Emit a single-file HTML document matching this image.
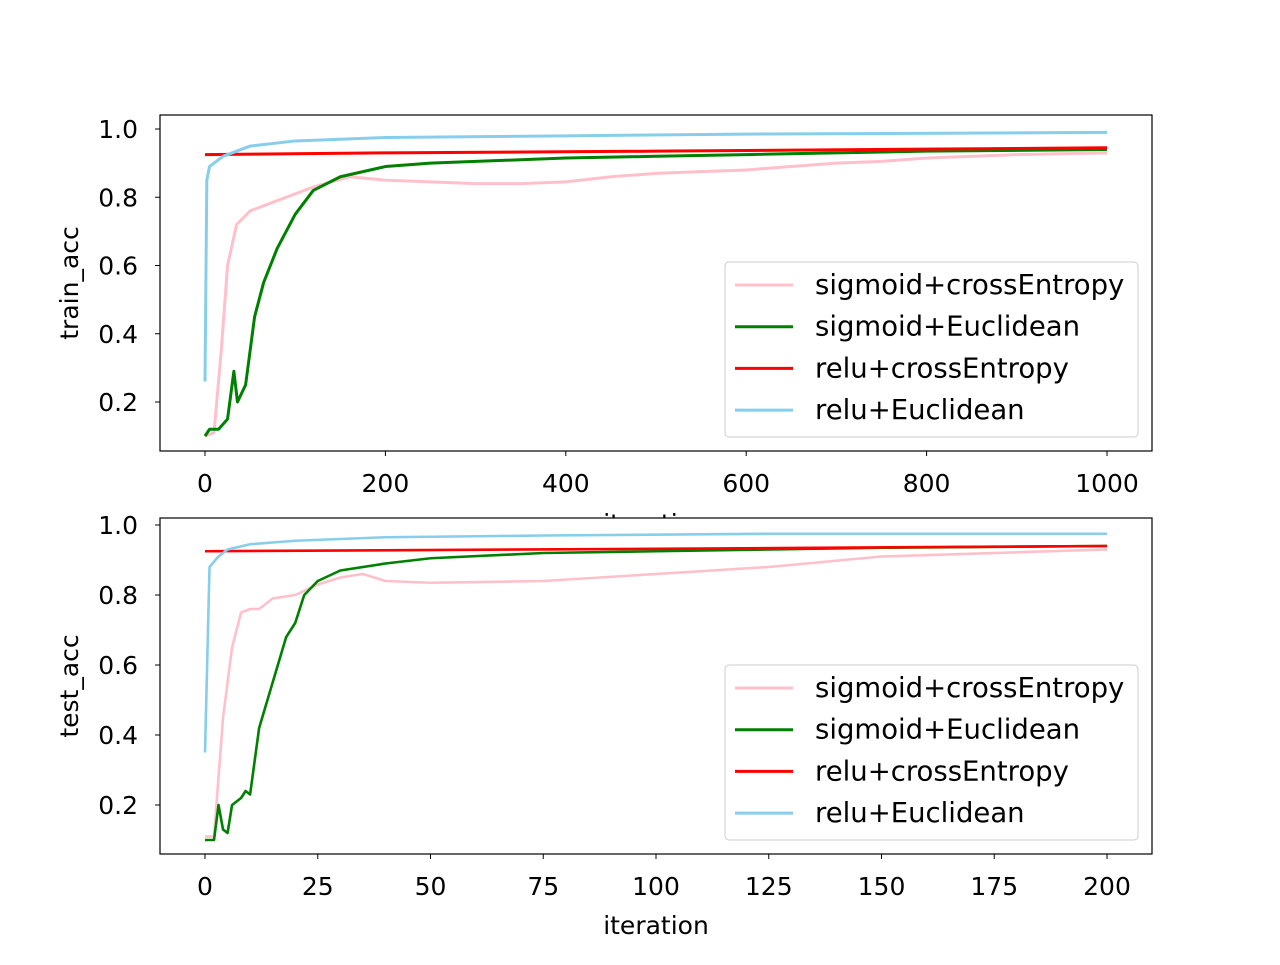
<!DOCTYPE html>
<html><head><meta charset="utf-8"><style>
body{margin:0;background:#fff}
svg text{font-family:"DejaVu Sans","Liberation Sans",sans-serif;fill:#000}
</style></head><body>
<svg id="c" width="1280" height="960" xmlns="http://www.w3.org/2000/svg"></svg>
<script>
const seriesNames=["sigmoid+crossEntropy","sigmoid+Euclidean","relu+crossEntropy","relu+Euclidean"];
const colors=["pink","green","red","skyblue"];
const trainPinkX=[0,10,18,25,35,50,80,120,160,200,250,300,350,400,450,500,550,600,650,700,750,800,900,1000];
const trainPinkY=[0.10,0.11,0.35,0.60,0.72,0.76,0.79,0.83,0.86,0.85,0.845,0.84,0.84,0.845,0.86,0.87,0.875,0.88,0.89,0.90,0.905,0.915,0.925,0.93];
const trainGreenX=[0,5,15,25,32,36,45,55,65,80,100,120,150,200,250,300,400,500,600,800,1000];
const trainGreenY=[0.10,0.12,0.12,0.15,0.29,0.20,0.25,0.45,0.55,0.65,0.75,0.82,0.86,0.89,0.90,0.905,0.915,0.92,0.925,0.935,0.94];
const trainRedX=[0,200,500,1000];
const trainRedY=[0.925,0.93,0.935,0.945];
const trainBlueX=[0,2,5,20,50,100,200,400,600,1000];
const trainBlueY=[0.26,0.85,0.89,0.92,0.95,0.965,0.975,0.98,0.985,0.99];
const testPinkX=[0,2,4,6,8,10,12,15,20,25,30,35,40,50,75,100,125,150,200];
const testPinkY=[0.11,0.11,0.45,0.65,0.75,0.76,0.76,0.79,0.80,0.83,0.85,0.86,0.84,0.835,0.84,0.86,0.88,0.91,0.93];
const testGreenX=[0,2,3,4,5,6,8,9,10,12,15,18,20,22,25,30,40,50,75,100,150,200];
const testGreenY=[0.10,0.10,0.20,0.13,0.12,0.20,0.22,0.24,0.23,0.42,0.55,0.68,0.72,0.80,0.84,0.87,0.89,0.905,0.92,0.925,0.935,0.94];
const testRedX=[0,100,200];
const testRedY=[0.925,0.932,0.94];
const testBlueX=[0,1,3,5,10,20,40,75,125,200];
const testBlueY=[0.35,0.88,0.91,0.93,0.945,0.955,0.965,0.97,0.975,0.975];
const topXTicks=[0,200,400,600,800,1000];
const botXTicks=[0,25,50,75,100,125,150,175,200];
const yTicks=[0.2,0.4,0.6,0.8,1.0];

const svg=document.getElementById('c');
const NS="http://www.w3.org/2000/svg";
const FS=25;
function mk(t,a,p){const e=document.createElementNS(NS,t);for(const k in a)e.setAttribute(k,a[k]);(p||svg).appendChild(e);return e;}

function panel(name,box,xmax,xticks,ylab,series,sw){
  const g=mk('g',{});
  
  
  mk('rect',{x:box.l,y:box.t,width:box.r-box.l,height:box.b-box.t,fill:'#fff'},g);
  const sx=v=>205+(1107-205)*v/xmax;
  const sy=v=>box.y1+(1-v)*(box.y02-box.y1)/0.8;
  series.forEach((s,i)=>{
    const pl=mk('polyline',{points:s[0].map((x,j)=>sx(x)+','+sy(s[1][j])).join(' '),fill:'none',stroke:colors[i],'stroke-width':sw,'stroke-linejoin':'round'},g);
    
    
  });
  mk('rect',{x:box.l,y:box.t,width:box.r-box.l,height:box.b-box.t,fill:'none',stroke:'#000','stroke-width':1.2},g);
  xticks.forEach(v=>{
    const x=sx(v);
    mk('line',{x1:x,x2:x,y1:box.b,y2:box.b+5,stroke:'#000'},g);
    const t=mk('text',{x:x,y:box.b+41,'text-anchor':'middle','font-size':FS},g);
    t.textContent=v;
    
    
  });
  yTicks.forEach(v=>{
    const y=sy(v);
    mk('line',{x1:box.l-5,x2:box.l,y1:y,y2:y,stroke:'#000'},g);
    const t=mk('text',{x:box.l-22,y:y+9,'text-anchor':'end','font-size':FS},g);
    t.textContent=v.toFixed(1);
    
    
  });
  const yl=mk('text',{x:0,y:0,'text-anchor':'middle','font-size':FS,transform:`translate(78,${(box.t+box.b)/2}) rotate(-90)`},g);
  yl.textContent=ylab;
  
  
  const lg=mk('g',{},g);
  
  
  mk('rect',{x:725,y:box.lt,width:413,height:175,rx:4,fill:'#fff','fill-opacity':0.8,stroke:'#ccc'},lg);
  seriesNames.forEach((n,i)=>{
    const y=box.lt+23+i*41.7;
    mk('line',{x1:735,x2:793,y1:y,y2:y,stroke:colors[i],'stroke-width':3},lg);
    const t=mk('text',{x:815,y:y+9,'font-size':27.5},lg);
    t.textContent=n;
    
    
  });
  return g;
}
const tx=mk('text',{x:656,y:532,'text-anchor':'middle','font-size':FS});
tx.textContent='iteration';


panel('train',{l:160,r:1152,t:115,b:451,y1:129,y02:402,lt:262},1000,topXTicks,'train_acc',
  [[trainPinkX,trainPinkY],[trainGreenX,trainGreenY],[trainRedX,trainRedY],[trainBlueX,trainBlueY]],3);
panel('test',{l:160,r:1152,t:518,b:854,y1:525,y02:805,lt:665},200,botXTicks,'test_acc',
  [[testPinkX,testPinkY],[testGreenX,testGreenY],[testRedX,testRedY],[testBlueX,testBlueY]],2.6);
const bx=mk('text',{x:656,y:934,'text-anchor':'middle','font-size':FS});
bx.textContent='iteration';


</script>
</body></html>
